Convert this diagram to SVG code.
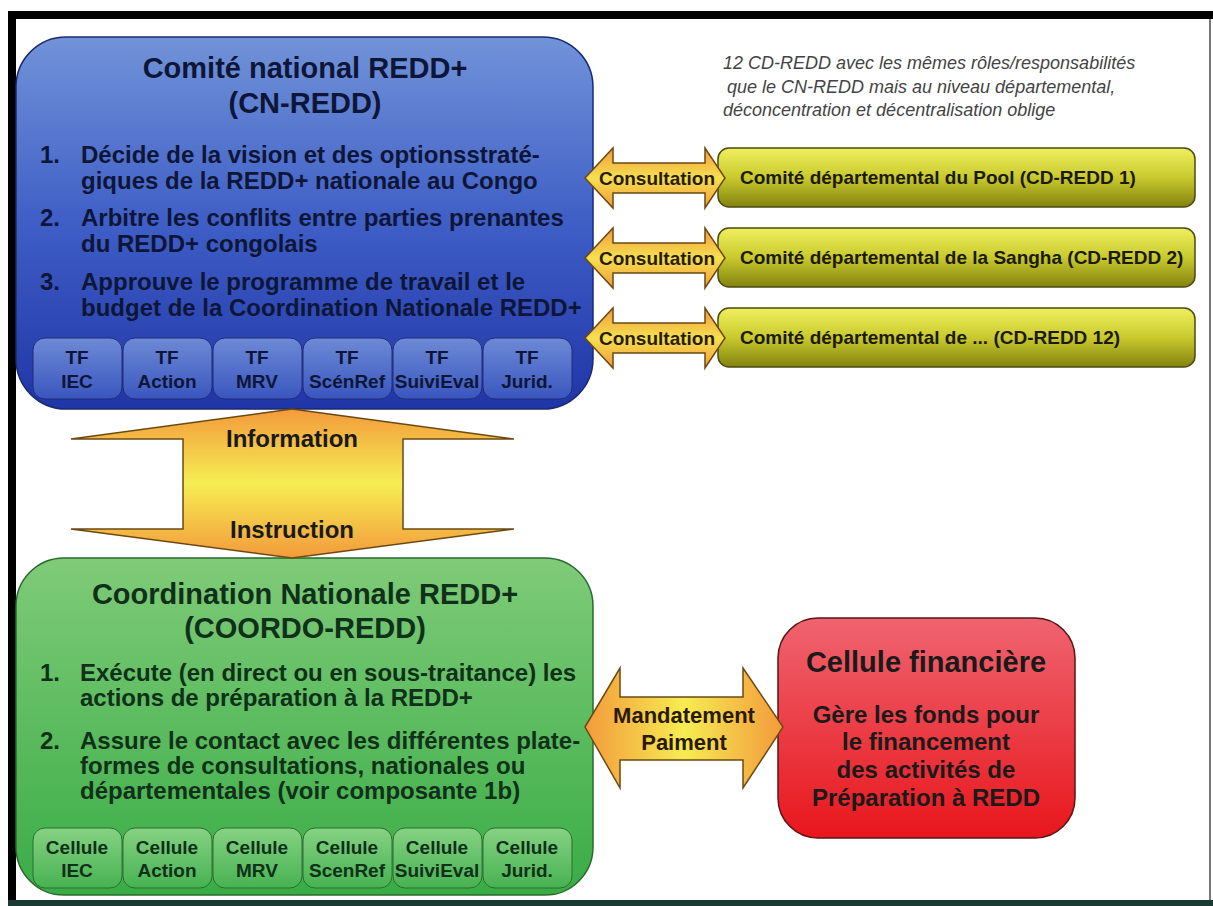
<svg xmlns="http://www.w3.org/2000/svg" width="1213" height="906" viewBox="0 0 1213 906">
<defs>
<linearGradient id="gBlue" x1="0" y1="0" x2="0" y2="1">
<stop offset="0" stop-color="#7193d8"/><stop offset="0.5" stop-color="#3f5ec6"/><stop offset="1" stop-color="#2035a6"/>
</linearGradient>
<linearGradient id="gBlueCell" x1="0" y1="0" x2="0" y2="1">
<stop offset="0" stop-color="#6d8ad6"/><stop offset="1" stop-color="#3a56bf"/>
</linearGradient>
<linearGradient id="gGreen" x1="0" y1="0" x2="0" y2="1">
<stop offset="0" stop-color="#7fcb78"/><stop offset="1" stop-color="#39ac46"/>
</linearGradient>
<linearGradient id="gGreenCell" x1="0" y1="0" x2="0" y2="1">
<stop offset="0" stop-color="#86d283"/><stop offset="1" stop-color="#47b252"/>
</linearGradient>
<linearGradient id="gRed" x1="0" y1="0" x2="0" y2="1">
<stop offset="0" stop-color="#ef6470"/><stop offset="1" stop-color="#e8161c"/>
</linearGradient>
<linearGradient id="gYel" x1="0" y1="0" x2="0" y2="1">
<stop offset="0" stop-color="#f0f060"/><stop offset="0.5" stop-color="#c9c92e"/><stop offset="1" stop-color="#83830f"/>
</linearGradient>
<linearGradient id="gArrV" x1="0" y1="0" x2="0" y2="1">
<stop offset="0" stop-color="#f39a3c"/><stop offset="0.5" stop-color="#f6ee52"/><stop offset="1" stop-color="#f39a3c"/>
</linearGradient>
<linearGradient id="gArrH" x1="0" y1="0" x2="0" y2="1">
<stop offset="0" stop-color="#f39a3c"/><stop offset="0.5" stop-color="#f5e050"/><stop offset="1" stop-color="#f39a3c"/>
</linearGradient>
<linearGradient id="gArrM" x1="0" y1="0" x2="1" y2="0">
<stop offset="0" stop-color="#f39a3c"/><stop offset="0.5" stop-color="#f6ec52"/><stop offset="1" stop-color="#f39a3c"/>
</linearGradient>
</defs>
<style>
text{font-family:"Liberation Sans",Arial,sans-serif;font-weight:bold}
.ttl{font-size:29px;text-anchor:middle}
.it{font-size:24px}
.cell{font-size:19px;text-anchor:middle}
.blueT{fill:#0e1638}
.greenT{fill:#10301a}
.dark{fill:#1a1a1a}
.cons{font-size:19px;fill:#2a1a00}
.mand{font-size:22px;fill:#2a1a00;text-anchor:middle}
.vlab{font-size:24px;fill:#1a1a1a;text-anchor:middle}
.cd{font-size:19px;fill:#1b1b05}
.note{font-size:18px;font-style:italic;font-weight:normal;fill:#444}
.arr{stroke:#6b4a12;stroke-width:1.5}
</style>
<rect width="1213" height="906" fill="#ffffff"/>
<g id="frame">
<rect x="8" y="11" width="1205" height="8" fill="#000"/>
<rect x="8" y="11" width="8" height="895" fill="#000"/>
<rect x="1209" y="19" width="2" height="882" fill="#777"/>
<rect x="8" y="900" width="1205" height="6" fill="#1c3a34"/>
</g>

<g id="cn-redd">
<rect x="16" y="37" width="577" height="372" rx="50" fill="url(#gBlue)" stroke="#1b2a70" stroke-width="1.5"/>
<text class="ttl blueT" x="305" y="78">Comité national REDD+</text>
<text class="ttl blueT" x="305" y="113">(CN-REDD)</text>
<g class="it blueT">
<text x="40" y="163">1.</text><text x="81" y="163">Décide de la vision et des optionsstraté-</text>
<text x="81" y="189">giques de la REDD+ nationale au Congo</text>
<text x="40" y="226">2.</text><text x="81" y="226">Arbitre les conflits entre parties prenantes</text>
<text x="81" y="252">du REDD+ congolais</text>
<text x="40" y="290">3.</text><text x="81" y="290">Approuve le programme de travail et le</text>
<text x="81" y="316">budget de la Coordination Nationale REDD+</text>
</g>
<g id="tf-cells">
<rect x="33" y="338" width="89" height="61" rx="12" fill="url(#gBlueCell)" stroke="#1f2d7a"/>
<rect x="123" y="338" width="89" height="61" rx="12" fill="url(#gBlueCell)" stroke="#1f2d7a"/>
<rect x="213" y="338" width="89" height="61" rx="12" fill="url(#gBlueCell)" stroke="#1f2d7a"/>
<rect x="303" y="338" width="89" height="61" rx="12" fill="url(#gBlueCell)" stroke="#1f2d7a"/>
<rect x="393" y="338" width="89" height="61" rx="12" fill="url(#gBlueCell)" stroke="#1f2d7a"/>
<rect x="483" y="338" width="89" height="61" rx="12" fill="url(#gBlueCell)" stroke="#1f2d7a"/>
<g class="cell blueT">
<text x="77" y="364">TF</text><text x="77" y="388">IEC</text>
<text x="167" y="364">TF</text><text x="167" y="388">Action</text>
<text x="257" y="364">TF</text><text x="257" y="388">MRV</text>
<text x="347" y="364">TF</text><text x="347" y="388">ScénRef</text>
<text x="437" y="364">TF</text><text x="437" y="388">SuiviEval</text>
<text x="527" y="364">TF</text><text x="527" y="388">Jurid.</text>
</g>
</g>
</g>

<g id="note">
<text class="note" x="723" y="69">12 CD-REDD avec les mêmes rôles/responsabilités</text>
<text class="note" x="727" y="93">que le CN-REDD mais au niveau départemental,</text>
<text class="note" x="723" y="116">déconcentration et décentralisation oblige</text>
</g>

<g id="cd-redd-1">
<rect x="718" y="148" width="477" height="59" rx="11" fill="url(#gYel)" stroke="#4a4a10" stroke-width="1.5"/>
<text class="cd" x="740" y="184">Comité départemental du Pool (CD-REDD 1)</text>
</g>
<g id="cd-redd-2">
<rect x="718" y="228" width="477" height="59" rx="11" fill="url(#gYel)" stroke="#4a4a10" stroke-width="1.5"/>
<text class="cd" x="740" y="264">Comité départemental de la Sangha (CD-REDD 2)</text>
</g>
<g id="cd-redd-12">
<rect x="718" y="308" width="477" height="59" rx="11" fill="url(#gYel)" stroke="#4a4a10" stroke-width="1.5"/>
<text class="cd" x="740" y="344">Comité départemental de ... (CD-REDD 12)</text>
</g>

<g id="coordo-redd">
<rect x="16" y="558" width="577" height="337" rx="48" fill="url(#gGreen)" stroke="#2a6a2e" stroke-width="1.5"/>
<text class="ttl greenT" x="305" y="604">Coordination Nationale REDD+</text>
<text class="ttl greenT" x="305" y="638">(COORDO-REDD)</text>
<g class="it greenT">
<text x="40" y="681">1.</text><text x="80" y="681">Exécute (en direct ou en sous-traitance) les</text>
<text x="80" y="706">actions de préparation à la REDD+</text>
<text x="40" y="749">2.</text><text x="80" y="749">Assure le contact avec les différentes plate-</text>
<text x="80" y="774">formes de consultations, nationales ou</text>
<text x="80" y="799">départementales (voir composante 1b)</text>
</g>
<g id="cellules">
<rect x="33" y="828" width="89" height="60" rx="12" fill="url(#gGreenCell)" stroke="#2d6e30"/>
<rect x="123" y="828" width="89" height="60" rx="12" fill="url(#gGreenCell)" stroke="#2d6e30"/>
<rect x="213" y="828" width="89" height="60" rx="12" fill="url(#gGreenCell)" stroke="#2d6e30"/>
<rect x="303" y="828" width="89" height="60" rx="12" fill="url(#gGreenCell)" stroke="#2d6e30"/>
<rect x="393" y="828" width="89" height="60" rx="12" fill="url(#gGreenCell)" stroke="#2d6e30"/>
<rect x="483" y="828" width="89" height="60" rx="12" fill="url(#gGreenCell)" stroke="#2d6e30"/>
<g class="cell greenT">
<text x="77" y="854">Cellule</text><text x="77" y="877">IEC</text>
<text x="167" y="854">Cellule</text><text x="167" y="877">Action</text>
<text x="257" y="854">Cellule</text><text x="257" y="877">MRV</text>
<text x="347" y="854">Cellule</text><text x="347" y="877">ScenRef</text>
<text x="437" y="854">Cellule</text><text x="437" y="877">SuiviEval</text>
<text x="527" y="854">Cellule</text><text x="527" y="877">Jurid.</text>
</g>
</g>
</g>

<g id="cellule-financiere">
<rect x="778" y="618" width="297" height="220" rx="40" fill="url(#gRed)" stroke="#5a1414" stroke-width="1.5"/>
<text class="ttl dark" x="926" y="672">Cellule financière</text>
<g class="it dark" text-anchor="middle">
<text x="926" y="723">Gère les fonds pour</text>
<text x="926" y="750">le financement</text>
<text x="926" y="778">des activités de</text>
<text x="926" y="806">Préparation à REDD</text>
</g>
</g>

<g id="connectors">
<polygon class="arr" fill="url(#gArrV)" points="292,409 514,439 403,439 403,529 514,529 292,558 71,529 183,529 183,439 71,439"/>
<text class="vlab" x="292" y="447">Information</text>
<text class="vlab" x="292" y="538">Instruction</text>
<g>
<polygon class="arr" fill="url(#gArrH)" points="585,178 613,148 613,163 705,163 705,148 725,178 705,208 705,193 613,193 613,208"/>
<text class="cons" x="657" y="185" text-anchor="middle">Consultation</text>
<polygon class="arr" fill="url(#gArrH)" points="585,258 613,228 613,243 705,243 705,228 725,258 705,288 705,273 613,273 613,288"/>
<text class="cons" x="657" y="265" text-anchor="middle">Consultation</text>
<polygon class="arr" fill="url(#gArrH)" points="585,338 613,308 613,323 705,323 705,308 725,338 705,368 705,353 613,353 613,368"/>
<text class="cons" x="657" y="345" text-anchor="middle">Consultation</text>
</g>
<polygon class="arr" fill="url(#gArrM)" points="585,727 620,668 620,697 743,697 743,668 783,727 743,788 743,760 620,760 620,788"/>
<text class="mand" x="684" y="723">Mandatement</text>
<text class="mand" x="684" y="750">Paiment</text>
</g>
</svg>
